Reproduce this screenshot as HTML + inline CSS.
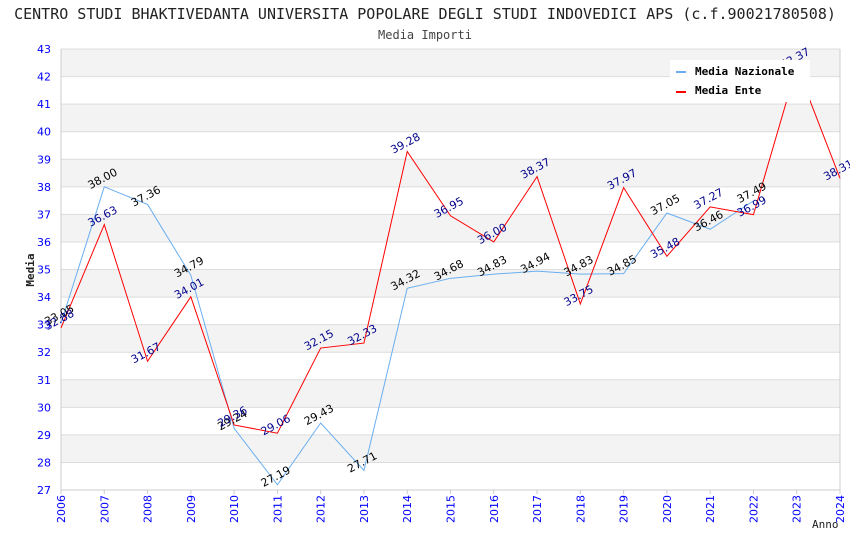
<!DOCTYPE html>
<html><head><meta charset="utf-8"><style>
body{margin:0;background:#fff}
svg{display:block}
</style></head><body>
<svg id="chart" width="850" height="550" xmlns="http://www.w3.org/2000/svg">
<text x="425" y="19" text-anchor="middle" font-family="DejaVu Sans Mono, monospace" font-size="15" fill="#222">CENTRO STUDI BHAKTIVEDANTA UNIVERSITA POPOLARE DEGLI STUDI INDOVEDICI APS (c.f.90021780508)</text>
<text x="425" y="39" text-anchor="middle" font-family="DejaVu Sans Mono, monospace" font-size="12" fill="#444">Media Importi</text>
<g id="bands"></g><g id="grid"></g><g id="axes"></g><g id="series"></g><g id="labels"></g>
<text x="34" y="270" transform="rotate(-90 34 270)" text-anchor="middle" font-family="DejaVu Sans Mono, monospace" font-size="11" font-weight="bold" fill="#222">Media</text>
<text x="812" y="528" font-family="DejaVu Sans Mono, monospace" font-size="11" fill="#222">Anno</text>
<g>
<rect x="670" y="60" width="140" height="42" fill="#fff"/>
<g><rect x="676" y="71" width="10" height="2" fill="#6aaef0"/><text x="695" y="75" font-family="DejaVu Sans Mono, monospace" font-size="11" font-weight="bold" fill="#000">Media Nazionale</text></g>
<g><rect x="676" y="91" width="10" height="2" fill="#f00"/><text x="695" y="94" font-family="DejaVu Sans Mono, monospace" font-size="11" font-weight="bold" fill="#000">Media Ente</text></g>
</g>
</svg>
<script>
const years=[2006,2007,2008,2009,2010,2011,2012,2013,2014,2015,2016,2017,2018,2019,2020,2021,2022,2023,2024];
const nazionale=[33.05,38.00,37.36,34.79,29.24,27.19,29.43,27.71,34.32,34.68,34.83,34.94,34.83,34.85,37.05,36.46,37.49];
const ente=[32.88,36.63,31.67,34.01,29.36,29.06,32.15,32.33,39.28,36.95,36.00,38.37,33.75,37.97,35.48,37.27,36.99,42.37,38.31];
const yTicks=[27,28,29,30,31,32,33,34,35,36,37,38,39,40,41,42,43];
const NS='http://www.w3.org/2000/svg';
const X0=61,X1=840,Y0=490,Y1=49,YMIN=27,YMAX=43;
const xs=y=>X0+(y-years[0])/(years[years.length-1]-years[0])*(X1-X0);
const ys=v=>Y0-(v-YMIN)/(YMAX-YMIN)*(Y0-Y1);
function mk(t,a,p){const e=document.createElementNS(NS,t);for(const k in a)e.setAttribute(k,a[k]);p.appendChild(e);return e;}
const bands=document.getElementById('bands'),grid=document.getElementById('grid'),axes=document.getElementById('axes');
for(let i=0;i<yTicks.length-1;i++){
 const hi=yTicks[yTicks.length-1-i],lo=hi-1;
 if(i%2===0){const r=mk('rect',{x:X0,y:ys(hi),width:X1-X0,height:ys(lo)-ys(hi),fill:'#f3f3f3'},bands);
 
 }
}
yTicks.forEach(t=>{
 const l=mk('line',{x1:X0,x2:X1,y1:ys(t),y2:ys(t),stroke:'#ddd','stroke-width':1},grid);
 
 
 const tx=mk('text',{x:X0-10,y:ys(t)+4,'text-anchor':'end','font-family':'DejaVu Sans, sans-serif','font-size':11,fill:'#00f'},axes);
 tx.textContent=t;
 
 
});
mk('line',{x1:X0,x2:X0,y1:Y1,y2:Y0,stroke:'#ccc'},axes);
mk('line',{x1:X1,x2:X1,y1:Y1,y2:Y0,stroke:'#ccc'},axes);
mk('line',{x1:X0,x2:X1,y1:Y0,y2:Y0,stroke:'#ccc'},axes);
years.forEach(y=>{
 const x=xs(y);
 mk('line',{x1:x,x2:x,y1:Y0,y2:Y0+4,stroke:'#ccc'},axes);
 const tx=mk('text',{x:x+4,y:Y0+5,transform:`rotate(-90 ${x+4} ${Y0+5})`,'text-anchor':'end','font-family':'DejaVu Sans, sans-serif','font-size':11,fill:'#00f'},axes);
 tx.textContent=y;
 
 
});
const series=document.getElementById('series'),labels=document.getElementById('labels');
function draw(vals,color,lab,name){
 const pts=vals.map((v,i)=>xs(years[i])+','+ys(v)).join(' ');
 const pl=mk('polyline',{points:pts,fill:'none',stroke:color,'stroke-width':1},series);
 
 
 vals.forEach((v,i)=>{
  const x=xs(years[i]),y=ys(v)-5;
  const t=mk('text',{x:x,y:y,transform:`rotate(-28 ${x} ${y})`,'text-anchor':'middle','font-family':'DejaVu Sans, sans-serif','font-size':11,fill:lab},labels);
  t.textContent=v.toFixed(2);
  
  
 });
}
draw(nazionale,'#6aaef0','#000','series-nazionale');
draw(ente,'#f00','#00008b','series-ente');
</script>
</body></html>
